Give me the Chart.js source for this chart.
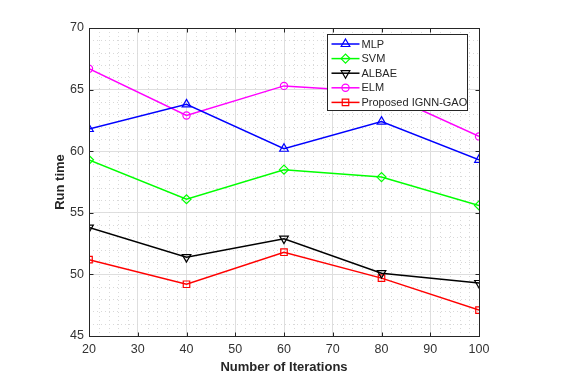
<!DOCTYPE html>
<html>
<head>
<meta charset="utf-8">
<script src="https://cdn.jsdelivr.net/npm/chart.js@4"></script>
<style>
  html, body { margin: 0; padding: 0; background: #fff; }
  #wrap { width: 563px; height: 389px; }
</style>
</head>
<body>
<div id="wrap"><canvas id="run-chart" width="563" height="389"></canvas></div>
<script>
// data
const iterations = [20, 40, 60, 80, 100];
const mlp   = [61.8, 63.8, 60.2, 62.4, 59.3];
const svm   = [59.3, 56.1, 58.5, 57.9, 55.6];
const albae = [53.8, 51.4, 52.9, 50.1, 49.3];
const elm   = [66.7, 62.9, 65.3, 64.8, 61.2];
const ignn  = [51.2, 49.2, 51.8, 49.7, 47.1];

const xTicks = { min: 20, max: 100, step: 10, minor: 2 };
const yTicks = { min: 45, max: 70, step: 5, minor: 1 };

const FONT = "'Liberation Sans', Arial, Helvetica, sans-serif";
const AXIS = '#262626';

function series(label, vals, color, style, radius, rotation) {
  return {
    label: label,
    data: iterations.map((x, i) => ({ x: x, y: vals[i] })),
    borderColor: color,
    backgroundColor: color,
    borderWidth: 1.5,
    pointStyle: style,
    pointRadius: radius,
    pointRotation: rotation || 0,
    pointBorderWidth: 1.2,
    pointBackgroundColor: 'rgba(0,0,0,0)',
    pointBorderColor: color,
    tension: 0,
    fill: false,
  };
}

const datasets = [
  series('MLP', mlp, '#0000ff', 'triangle', 5),
  series('SVM', svm, '#00ff00', 'rectRot', 4.5),
  series('ALBAE', albae, '#000000', 'triangle', 5, 180),
  series('ELM', elm, '#ff00ff', 'circle', 3.6),
  series('Proposed IGNN-GAO', ignn, '#ff0000', 'rect', 4.6),
];

// minor dotted grid, inward ticks, full box
const matlabAxes = {
  id: 'matlabAxes',
  beforeDatasetsDraw(chart) {
    const { ctx, chartArea: a, scales: { x, y } } = chart;
    ctx.save();
    ctx.strokeStyle = '#d9d9d9';
    ctx.lineWidth = 1;
    ctx.setLineDash([1, 3]);
    for (let v = xTicks.min; v <= xTicks.max; v += xTicks.minor) {
      if ((v - xTicks.min) % xTicks.step === 0) continue;
      const px = Math.round(x.getPixelForValue(v)) + 0.5;
      ctx.beginPath(); ctx.moveTo(px, a.top); ctx.lineTo(px, a.bottom); ctx.stroke();
    }
    for (let v = yTicks.min; v <= yTicks.max; v += yTicks.minor) {
      if ((v - yTicks.min) % yTicks.step === 0) continue;
      const py = Math.round(y.getPixelForValue(v)) + 0.5;
      ctx.beginPath(); ctx.moveTo(a.left, py); ctx.lineTo(a.right, py); ctx.stroke();
    }
    ctx.restore();
  },
  afterDatasetsDraw(chart) {
    const { ctx, chartArea: a, scales: { x, y } } = chart;
    const L = Math.round(a.left) + 0.5, R = Math.round(a.right) + 0.5;
    const T = Math.round(a.top) + 0.5, B = Math.round(a.bottom) + 0.5;
    ctx.save();
    ctx.strokeStyle = AXIS;
    ctx.lineWidth = 1;
    ctx.beginPath();
    for (let v = xTicks.min; v <= xTicks.max; v += xTicks.step) {
      const px = Math.round(x.getPixelForValue(v)) + 0.5;
      ctx.moveTo(px, B); ctx.lineTo(px, B - 4);
      ctx.moveTo(px, T); ctx.lineTo(px, T + 4);
    }
    for (let v = yTicks.min; v <= yTicks.max; v += yTicks.step) {
      const py = Math.round(y.getPixelForValue(v)) + 0.5;
      ctx.moveTo(L, py); ctx.lineTo(L + 4, py);
      ctx.moveTo(R, py); ctx.lineTo(R - 4, py);
    }
    ctx.stroke();
    ctx.strokeRect(L, T, R - L, B - T);
    ctx.restore();
  },
};

function marker(ctx, ds, px, py) {
  const opts = {
    pointStyle: ds.pointStyle,
    rotation: ds.pointRotation,
    radius: ds.pointRadius,
    borderWidth: ds.pointBorderWidth,
  };
  ctx.fillStyle = 'rgba(0,0,0,0)';
  ctx.strokeStyle = ds.borderColor;
  ctx.lineWidth = ds.pointBorderWidth;
  Chart.helpers.drawPoint(ctx, opts, px, py);
}

// legend box inside the axes, line + marker like MATLAB
const boxLegend = {
  id: 'boxLegend',
  afterDraw(chart) {
    const { ctx } = chart;
    const bx = 327.5, by = 34.5, bw = 140, bh = 76;
    ctx.save();
    ctx.fillStyle = '#fff';
    ctx.fillRect(bx, by, bw, bh);
    ctx.strokeStyle = AXIS;
    ctx.lineWidth = 1;
    ctx.strokeRect(bx, by, bw, bh);
    ctx.font = '11px ' + FONT;
    ctx.textBaseline = 'middle';
    chart.data.datasets.forEach((ds, i) => {
      const ry = by + 9.5 + i * 14.6;
      ctx.strokeStyle = ds.borderColor;
      ctx.lineWidth = ds.borderWidth;
      ctx.beginPath(); ctx.moveTo(bx + 4, ry); ctx.lineTo(bx + 32, ry); ctx.stroke();
      marker(ctx, ds, bx + 18, ry);
      ctx.fillStyle = AXIS;
      ctx.fillText(ds.label, bx + 34, ry + 0.5);
    });
    ctx.restore();
  },
};

new Chart(document.getElementById('run-chart'), {
  type: 'line',
  data: { datasets: datasets },
  options: {
    responsive: false,
    animation: false,
    devicePixelRatio: 1,
    layout: { padding: { left: 0, top: 28, right: 84, bottom: 0 } },
    plugins: { legend: { display: false }, tooltip: { enabled: false } },
    scales: {
      x: {
        type: 'linear',
        min: xTicks.min,
        max: xTicks.max,
        afterFit: s => { s.height = 53; },
        ticks: { stepSize: xTicks.step, padding: 6, color: '#333', font: { family: FONT, size: 12.5 }, maxRotation: 0 },
        grid: { color: '#dedede', lineWidth: 1, drawTicks: false },
        border: { display: false },
        title: {
          display: true,
          text: 'Number of Iterations',
          color: AXIS,
          font: { family: FONT, size: 13, weight: 'bold' },
          padding: { top: 0, bottom: 14 },
        },
      },
      y: {
        type: 'linear',
        min: yTicks.min,
        max: yTicks.max,
        afterFit: s => { s.width = 89; },
        ticks: { stepSize: yTicks.step, padding: 5, color: '#333', font: { family: FONT, size: 12.5 } },
        grid: { color: '#dedede', lineWidth: 1, drawTicks: false },
        border: { display: false },
        title: {
          display: true,
          text: 'Run time',
          color: AXIS,
          font: { family: FONT, size: 13, weight: 'bold' },
          padding: { top: 53, bottom: 0 },
        },
      },
    },
  },
  plugins: [matlabAxes, boxLegend],
});
</script>
</body>
</html>
